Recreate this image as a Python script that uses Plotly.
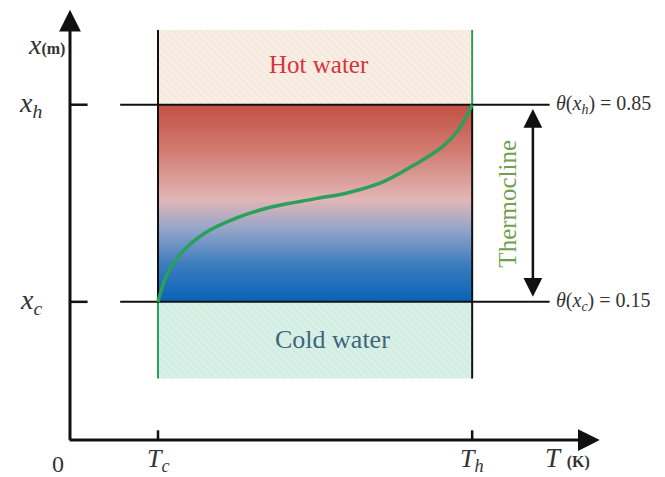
import numpy as np
import plotly.graph_objects as go

# ---- diagram values (conceptual units) ----
T_c, T_h = 1.0, 4.57          # cold / hot temperature
x_c, x_h = 1.57, 3.81         # thermocline bottom / top height
x_top, x_bottom = 4.66, 0.70  # tank top / bottom
T_axis_max, x_axis_max = 6.02, 4.89
theta_c, theta_h = 0.15, 0.85
line_T_start, line_T_end = 0.57, 5.45
arrow_T = 5.26

# temperature profile through the thermocline
profile_T = [1.00, 1.11, 1.27, 1.53, 1.91, 2.30, 2.78, 3.16, 3.55, 3.92, 4.23, 4.41, 4.57]
profile_x = [1.57, 1.90, 2.13, 2.35, 2.53, 2.65, 2.74, 2.81, 2.93, 3.13, 3.33, 3.52, 3.81]

xtick_labels = ["<i>T</i><sub><i>c</i></sub>", "<i>T</i><sub><i>h</i></sub>"]
ytick_labels = ["<i>x</i><sub><i>c</i></sub>", "<i>x</i><sub><i>h</i></sub>"]

FONT = "Liberation Serif"
BLACK = "#111111"
GREEN = "#2aa05a"

fig = go.Figure()

# hot water region (hatched)
fig.add_trace(go.Scatter(
    x=[T_c, T_h, T_h, T_c, T_c], y=[x_h, x_h, x_top, x_top, x_h],
    mode="lines", line=dict(width=0), fill="toself", fillcolor="rgb(248,238,227)",
    fillpattern=dict(shape="\\", size=5, solidity=0.25, fgcolor="rgb(236,222,208)", bgcolor="rgb(248,238,227)"),
    hoverinfo="skip", showlegend=False))
# cold water region (hatched)
fig.add_trace(go.Scatter(
    x=[T_c, T_h, T_h, T_c, T_c], y=[x_bottom, x_bottom, x_c, x_c, x_bottom],
    mode="lines", line=dict(width=0), fill="toself", fillcolor="rgb(216,240,231)",
    fillpattern=dict(shape="\\", size=5, solidity=0.25, fgcolor="rgb(196,228,216)", bgcolor="rgb(216,240,231)"),
    hoverinfo="skip", showlegend=False))

# thermocline gradient
n = 80
y_edges = np.linspace(x_c, x_h, n + 1)
y_mid = (y_edges[:-1] + y_edges[1:]) / 2
z = ((y_mid - x_c) / (x_h - x_c)).reshape(-1, 1)
fig.add_trace(go.Heatmap(
    x=[T_c, T_h], y=y_edges, z=z, zmin=0, zmax=1, showscale=False, hoverinfo="skip",
    colorscale=[[0.0, "rgb(8,98,184)"], [0.19, "rgb(60,125,190)"], [0.37, "rgb(150,165,200)"],
                [0.52, "rgb(226,182,182)"], [0.77, "rgb(210,122,112)"], [1.0, "rgb(194,80,70)"]]))

def seg(xs, ys, color=BLACK, width=2):
    fig.add_trace(go.Scatter(x=xs, y=ys, mode="lines", line=dict(color=color, width=width),
                             hoverinfo="skip", showlegend=False))

# tank walls
seg([T_c, T_c], [x_c, x_top])
seg([T_c, T_c], [x_bottom, x_c], GREEN)
seg([T_h, T_h], [x_bottom, x_h])
seg([T_h, T_h], [x_h, x_top], GREEN)

# x_h and x_c lines
seg([line_T_start, line_T_end], [x_h, x_h])
seg([line_T_start, line_T_end], [x_c, x_c])
# y-axis ticks
seg([0, 0.2], [x_h, x_h], BLACK, 2.5)
seg([0, 0.2], [x_c, x_c], BLACK, 2.5)
# x-axis ticks
seg([T_c, T_c], [0, 0.11], BLACK, 2.5)
seg([T_h, T_h], [0, 0.11], BLACK, 2.5)

# temperature profile
fig.add_trace(go.Scatter(x=profile_T, y=profile_x, mode="lines",
                         line=dict(color=GREEN, width=3.5, shape="spline"),
                         hoverinfo="skip", showlegend=False))

ann = []
# axes with arrows
ann.append(dict(x=T_axis_max, y=0, ax=-0.02, ay=0, axref="x", ayref="y", xref="x", yref="y",
                showarrow=True, arrowhead=2, arrowsize=1.45, arrowwidth=3, arrowcolor=BLACK,
                standoff=0, text=""))
ann.append(dict(x=0, y=x_axis_max, ax=0, ay=-0.02, axref="x", ayref="y", xref="x", yref="y",
                showarrow=True, arrowhead=2, arrowsize=1.45, arrowwidth=3, arrowcolor=BLACK,
                standoff=0, text=""))
# thermocline double arrow
ann.append(dict(x=arrow_T, y=x_h - 0.05, ax=arrow_T, ay=x_c + 0.04, axref="x", ayref="y",
                xref="x", yref="y", showarrow=True, arrowhead=2, startarrowhead=2,
                arrowside="end+start", arrowsize=1.5, startarrowsize=1.5,
                arrowwidth=2.5, arrowcolor=BLACK, text=""))

def label(x, y, text, size=22, color="#333333", xanchor="center", yanchor="middle", angle=0):
    ann.append(dict(x=x, y=y, xref="x", yref="y", text=text, showarrow=False,
                    font=dict(family=FONT, size=size, color=color),
                    xanchor=xanchor, yanchor=yanchor, textangle=angle))

label(-0.03, x_axis_max - 0.39, "<i>x</i><span style='font-size:16px'><b>(m)</b></span>", 28, xanchor="right")
label(-0.3, x_h, ytick_labels[1], 28, xanchor="right")
label(-0.3, x_c, ytick_labels[0], 28, xanchor="right")
label(-0.14, -0.27, "0", 24)
label(T_c, -0.23, xtick_labels[0], 26)
label(T_h, -0.23, xtick_labels[1], 26)
label(5.38, -0.2, "<i>T</i> <span style='font-size:16px'><b>(K)</b></span>", 27, xanchor="left")
label(line_T_end + 0.05, x_h, f"<i>θ</i>(<i>x</i><sub><i>h</i></sub>) = {theta_h:.2f}", 20, xanchor="left")
label(line_T_end + 0.05, x_c, f"<i>θ</i>(<i>x</i><sub><i>c</i></sub>) = {theta_c:.2f}", 20, xanchor="left")
label((T_c + T_h) / 2 + 0.04, (x_h + x_top) / 2 + 0.03, "Hot water", 25, "rgb(214,52,62)")
label((T_c + T_h) / 2 + 0.2, (x_c + x_bottom) / 2 + 0.01, "Cold water", 26, "rgb(62,102,122)")
label(4.97, (x_h + x_c) / 2, "Thermocline", 25, "rgb(112,160,80)", angle=-90)

fig.update_layout(
    width=665, height=477, margin=dict(l=0, r=0, t=0, b=0),
    paper_bgcolor="white", plot_bgcolor="white", annotations=ann, showlegend=False,
    xaxis=dict(range=[-70 / 88, 595 / 88], visible=False, fixedrange=True),
    yaxis=dict(range=[-37 / 88, 440 / 88], visible=False, fixedrange=True),
)
fig.write_html("out.html", config={"displayModeBar": False},
               post_script="document.body.style.margin='0';")
